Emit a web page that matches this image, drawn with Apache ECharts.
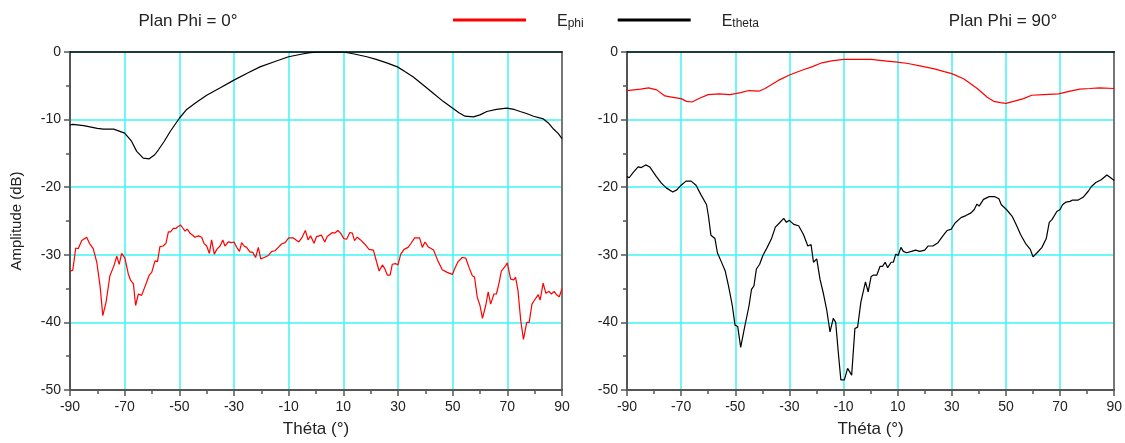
<!DOCTYPE html>
<html>
<head>
<meta charset="utf-8">
<script src="https://cdn.jsdelivr.net/npm/echarts@6/dist/echarts.min.js"></script>
<style>
  html, body { margin: 0; padding: 0; background: #fff; }
  #chart { width: 1125px; height: 443px; }
</style>
</head>
<body>
<div id="chart"></div>
<script>
// Plan Phi = 0 : Etheta (black)
const p0ThetaAng = [-90, -89, -85, -80, -77.8, -74, -70, -67.5, -65.6, -63.2, -61, -59, -57.7, -55.5, -53.4, -50, -47.3, -44, -40, -35, -30.2, -25, -20.5, -15, -10, -5, -2.2, 2, 6, 10, 14, 18.6, 22, 25.9, 29.8, 32.5, 35.6, 39, 42.9, 46.5, 49.9, 52.3, 54.5, 57.6, 60, 62.5, 66, 69.8, 72.5, 74.7, 77, 79.6, 83.2, 85, 86.9, 88.5, 90]
const p0ThetaVal = [-10.8, -10.7, -10.9, -11.3, -11.4, -11.4, -12.0, -13.2, -14.7, -15.7, -15.8, -15.2, -14.5, -13.2, -11.8, -9.8, -8.5, -7.5, -6.4, -5.3, -4.2, -3.1, -2.2, -1.4, -0.7, -0.3, -0.1, 0, 0, 0, -0.3, -0.7, -1.1, -1.6, -2.2, -2.9, -3.7, -4.8, -6.1, -7.3, -8.3, -9.0, -9.5, -9.6, -9.3, -8.8, -8.5, -8.3, -8.5, -8.8, -9.1, -9.5, -9.9, -10.5, -11.4, -12.0, -12.8]

// Plan Phi = 0 : Ephi (red)
const p0PhiAng = [-90, -89, -87.9, -87, -85.7, -83.9, -82.9, -81.5, -80.2, -79, -78, -76.8, -75.4, -73.9, -72.9, -72, -71.1, -69.9, -68.7, -67.8, -66.8, -66, -65, -63.8, -63.2, -62, -61, -60.1, -58.9, -58, -57.1, -55.9, -54.9, -54, -53.2, -52.2, -51.2, -50.4, -49.5, -48.8, -47.9, -47.1, -46.1, -45.1, -44.3, -43, -41.8, -41, -40, -39, -38.2, -37.2, -36.3, -35.1, -34.1, -33.3, -32.1, -30.9, -30, -29, -28, -27.2, -26.3, -25.4, -24.1, -23.2, -22.1, -21.1, -20.2, -19, -17.4, -16.2, -15, -13.8, -12.6, -11.3, -10, -8.3, -6.3, -5.2, -3.9, -2.9, -2, -0.7, 0.2, 2, 3.2, 4.1, 6, 6.8, 8, 9, 10.2, 11.2, 12.4, 13.3, 14.1, 15.1, 16.3, 17.8, 19.4, 21, 22.2, 23.1, 24.3, 25.1, 26.1, 27.1, 27.9, 29.1, 30, 31, 32.2, 33.7, 34.6, 36.1, 37.9, 38.9, 39.9, 41, 43, 44.6, 46.2, 48, 49.9, 50.7, 52, 53.5, 54.8, 56, 57.2, 58, 59, 60, 60.9, 62.1, 63, 63.9, 65.1, 66, 67, 67.8, 69.4, 70, 71.2, 72.4, 73, 73.9, 74.9, 75.9, 77.1, 78, 79, 79.8, 81.3, 82, 83.1, 84.1, 85.3, 86.1, 87.1, 88, 89, 90]
const p0PhiVal = [-32.4, -32.3, -29.0, -29.1, -27.9, -27.4, -28.3, -29.1, -31.1, -34.6, -39.0, -37.0, -33.1, -31.6, -30.2, -31.4, -29.8, -30.5, -32.8, -33.8, -34.3, -37.5, -35.8, -36.0, -35.8, -34.1, -33.0, -32.6, -30.9, -31.0, -28.8, -28.7, -28.3, -26.6, -26.6, -26.1, -26.1, -25.8, -25.6, -26.0, -26.5, -26.2, -26.8, -27.1, -27.4, -27.2, -27.4, -28.3, -28.7, -29.8, -27.8, -29.9, -29.2, -28.7, -27.8, -28.7, -28.1, -28.2, -28.1, -28.9, -29.5, -28.2, -28.7, -28.9, -29.6, -29.6, -30.4, -28.9, -30.6, -30.4, -30.1, -29.5, -29.4, -28.9, -28.4, -28.2, -27.5, -27.5, -28.1, -27.5, -26.4, -27.8, -27.2, -28.3, -27.3, -27.1, -28.1, -27.3, -26.7, -26.8, -26.4, -26.8, -27.6, -27.7, -26.7, -26.8, -27.9, -27.4, -27.8, -28.4, -29.2, -29.3, -31.1, -32.4, -31.5, -32.0, -33.0, -33.0, -31.4, -31.3, -31.5, -29.9, -29.2, -28.9, -28.4, -27.5, -27.5, -28.9, -28.1, -28.8, -29.3, -30.9, -32.2, -32.6, -32.9, -32.1, -31.0, -30.4, -30.5, -31.9, -33.1, -33.3, -36.3, -37.5, -39.4, -37.5, -35.5, -37.3, -35.8, -35.8, -34.1, -32.4, -31.6, -31.2, -33.6, -33.7, -33.3, -35.3, -39.7, -42.5, -40.0, -40.0, -37.3, -36.8, -35.9, -36.7, -34.2, -35.7, -35.4, -35.8, -35.4, -35.9, -36.2, -35.0]

// Plan Phi = 90 : Ephi (red)
const p90PhiAng = [-90, -85, -82, -79, -76, -73, -70, -68, -66, -63, -60, -56, -52, -48, -45, -41.3, -39, -34.1, -30, -25.4, -21.7, -18, -14.4, -10, -5.9, 0.2, 5.1, 9.9, 13.8, 18.7, 23.6, 27.2, 30, 34.5, 39.4, 43.1, 45.5, 48, 50, 52.8, 56.5, 59.5, 63.9, 69.4, 73.7, 77.3, 81, 84.6, 90]
const p90PhiVal = [-5.7, -5.5, -5.3, -5.6, -6.5, -6.7, -6.9, -7.3, -7.4, -6.8, -6.3, -6.2, -6.3, -6.0, -5.7, -5.8, -5.4, -4.2, -3.4, -2.7, -2.2, -1.6, -1.3, -1.1, -1.1, -1.1, -1.3, -1.5, -1.7, -2.1, -2.5, -2.9, -3.2, -4.0, -5.4, -6.7, -7.3, -7.5, -7.6, -7.3, -6.9, -6.4, -6.3, -6.2, -5.8, -5.5, -5.4, -5.3, -5.4]

// Plan Phi = 90 : Etheta (black)
const p90ThetaAng = [-90, -89.2, -87.7, -85.9, -84.7, -83.1, -81.6, -79.2, -77.3, -75.5, -73.1, -71.6, -70, -68.2, -66.3, -64.5, -62.7, -60.6, -59.9, -59, -57.5, -56.6, -55.3, -53.7, -52.5, -51.1, -50.1, -49.1, -48, -46.8, -44.9, -44, -43.1, -42.2, -41, -39.8, -38.2, -36.6, -35.2, -33.7, -32.1, -31.1, -30, -28.4, -26.6, -24.8, -23.2, -22, -21.1, -19.9, -18.7, -17.4, -16.2, -15, -13.8, -12.9, -11.9, -11, -9.7, -8.5, -7, -5.8, -4.8, -3.6, -1.9, -0.9, 0.2, 1.1, 2.3, 3.5, 4.4, 5.4, 6.3, 7.6, 8.4, 9.3, 10.2, 11.2, 12.1, 13.3, 15.1, 16.6, 18.2, 20, 21.2, 23, 24.9, 26.7, 28.3, 29.8, 31.2, 33.4, 35.2, 37.1, 38.3, 39.3, 40.1, 41.7, 43.8, 45.9, 47.4, 48.3, 50.2, 52.3, 54.1, 55.4, 57.2, 59, 60, 61.5, 63.3, 64.9, 66, 67, 68.8, 70, 70.9, 72.2, 73.7, 74.6, 76.7, 78.5, 80.4, 81.6, 83.2, 85.2, 87.3, 88, 89.3, 90]
const p90ThetaVal = [-18.4, -18.6, -17.8, -17.0, -17.1, -16.7, -17.0, -18.4, -19.4, -20.1, -20.7, -20.4, -19.7, -19.1, -19.1, -19.7, -21.1, -22.6, -24.3, -27.1, -27.6, -29.7, -30.9, -32.4, -34.6, -37.5, -40.4, -40.6, -43.7, -41.2, -37.5, -35.1, -34.6, -32.1, -31.4, -30.1, -28.9, -27.6, -25.9, -25.3, -24.6, -25.2, -24.9, -25.5, -25.7, -27.0, -28.7, -28.5, -31.1, -30.6, -33.6, -35.8, -38.2, -41.4, -39.4, -40.0, -44.6, -48.5, -48.5, -46.8, -47.8, -40.9, -40.7, -37.0, -34.0, -35.5, -33.2, -33.0, -33.0, -31.7, -31.7, -31.1, -31.9, -31.1, -31.1, -29.9, -30.1, -28.9, -29.5, -29.7, -29.5, -29.3, -29.5, -29.3, -28.7, -28.7, -28.2, -27.2, -26.4, -26.2, -25.3, -24.5, -24.2, -23.8, -23.3, -22.5, -22.8, -21.8, -21.4, -21.4, -21.7, -22.6, -23.3, -24.3, -25.8, -27.0, -28.3, -29.2, -30.3, -29.7, -28.9, -27.6, -25.2, -24.8, -23.6, -23.3, -22.6, -22.2, -22.1, -21.9, -21.9, -21.5, -20.6, -19.9, -19.3, -18.9, -18.2, -18.1, -18.8, -19.0]

const xTicks = { min: -90, max: 90, interval: 20 }
const yTicks = { min: -50, max: 0, interval: 10 }

const zip = (a, b) => a.map((x, i) => [x, b[i]])

const font = 'Liberation Sans, Arial, sans-serif'
const gridCyan = '#3ff5f5'
const axisGray = '#555'

const chart = echarts.init(document.getElementById('chart'))

const bottomX = (gridIndex, showName) => ({
  type: 'value',
  gridIndex: gridIndex,
  position: 'bottom',
  min: xTicks.min,
  max: xTicks.max,
  interval: xTicks.interval,
  name: showName ? 'Théta (°)' : '',
  nameLocation: 'middle',
  nameGap: 31,
  nameTextStyle: { fontFamily: font, fontSize: 17, color: '#222' },
  axisLine: { show: true, onZero: false, lineStyle: { color: axisGray, width: 2 } },
  axisTick: { show: true, inside: false, length: 6, lineStyle: { color: axisGray, width: 1.5 } },
  minorTick: { show: true, splitNumber: 2, length: 4, lineStyle: { color: axisGray, width: 1.5 } },
  axisLabel: { fontFamily: font, fontSize: 14, color: '#222', margin: 10 },
  splitLine: { show: true, lineStyle: { color: gridCyan, width: 1.5 } }
})

const topX = gridIndex => ({
  type: 'value',
  gridIndex: gridIndex,
  position: 'top',
  min: xTicks.min,
  max: xTicks.max,
  axisLine: { show: true, onZero: false, lineStyle: { color: '#000', width: 1.5 } },
  axisTick: { show: false },
  axisLabel: { show: false },
  splitLine: { show: false }
})

const leftY = (gridIndex, showName) => ({
  type: 'value',
  gridIndex: gridIndex,
  position: 'left',
  min: yTicks.min,
  max: yTicks.max,
  interval: yTicks.interval,
  name: showName ? 'Amplitude (dB)' : '',
  nameLocation: 'middle',
  nameGap: 46,
  nameTextStyle: { fontFamily: font, fontSize: 15, color: '#222' },
  axisLine: { show: true, onZero: false, lineStyle: { color: axisGray, width: 2 } },
  axisTick: { show: true, inside: false, length: 6, lineStyle: { color: axisGray, width: 1.5 } },
  minorTick: { show: true, splitNumber: 2, length: 4, lineStyle: { color: axisGray, width: 1.5 } },
  axisLabel: { fontFamily: font, fontSize: 14, color: '#222', margin: 9 },
  splitLine: { show: true, lineStyle: { color: gridCyan, width: 1.5 } }
})

const rightY = gridIndex => ({
  type: 'value',
  gridIndex: gridIndex,
  position: 'right',
  min: yTicks.min,
  max: yTicks.max,
  axisLine: { show: true, onZero: false, lineStyle: { color: '#777', width: 2 } },
  axisTick: { show: false },
  axisLabel: { show: false },
  splitLine: { show: false }
})

const lineSeries = (name, data, color, axisIndex) => ({
  name: name,
  type: 'line',
  xAxisIndex: axisIndex,
  yAxisIndex: axisIndex,
  data: data,
  showSymbol: false,
  symbol: 'none',
  animation: false,
  lineStyle: { color: color, width: 1.2 },
  itemStyle: { color: color },
  z: 5
})

const option = {
  animation: false,
  title: [
    { text: 'Plan Phi = 0°', left: 183, top: 8, textAlign: 'center',
      textStyle: { fontFamily: font, fontSize: 17, fontWeight: 'normal', color: '#222' } },
    { text: 'Plan Phi = 90°', left: 998, top: 8, textAlign: 'center',
      textStyle: { fontFamily: font, fontSize: 17, fontWeight: 'normal', color: '#222' } }
  ],
  legend: {
    left: 448,
    top: 9,
    icon: 'rect',
    itemWidth: 73,
    itemHeight: 3,
    itemGap: 34,
    data: ['Ephi', 'Etheta'],
    formatter: name => '{e|E}{s|' + name.slice(1) + '}',
    textStyle: {
      fontFamily: font,
      color: '#222',
      padding: [0, 0, 0, 26],
      rich: {
        e: { fontFamily: font, fontSize: 16, color: '#222', lineHeight: 20, verticalAlign: 'bottom' },
        s: { fontFamily: font, fontSize: 12, color: '#222', lineHeight: 20, verticalAlign: 'bottom' }
      }
    }
  },
  grid: [
    { left: 70, top: 52, width: 492, height: 340 },
    { left: 627, top: 52, width: 491, height: 340 }
  ],
  xAxis: [bottomX(0, true), bottomX(1, true), topX(0), topX(1)],
  yAxis: [leftY(0, true), leftY(1, false), rightY(0), rightY(1)],
  series: [
    lineSeries('Ephi', zip(p0PhiAng, p0PhiVal), '#ff0000', 0),
    lineSeries('Etheta', zip(p0ThetaAng, p0ThetaVal), '#000000', 0),
    lineSeries('Ephi', zip(p90PhiAng, p90PhiVal), '#ff0000', 1),
    lineSeries('Etheta', zip(p90ThetaAng, p90ThetaVal), '#000000', 1)
  ]
}

chart.setOption(option)
</script>
</body>
</html>
